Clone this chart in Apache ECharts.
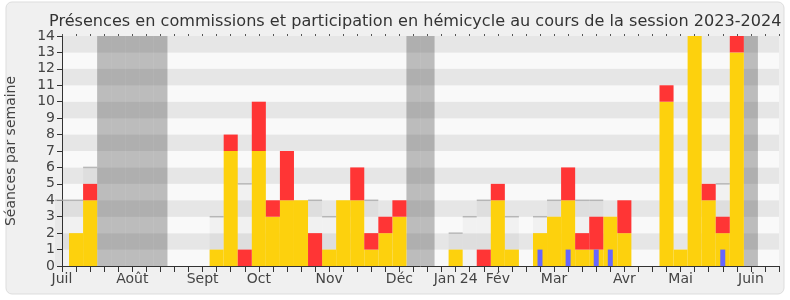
<html>
<head>
<meta charset="utf-8">
<title>Présences 2023-2024</title>
<script src="https://cdn.jsdelivr.net/npm/echarts@6/dist/echarts.min.js"></script>
<style>
  body { margin: 0; background: #fff; }
</style>
</head>
<body>
<div id="main" style="width: 790px;height:300px;"></div>
<script>
// semaines de la session (52 points, juil. 2023 -> juin 2024)
var weekLabels = ['Juil','','','','','Août','','','','','Sept','','','','Oct','','','','','Nov',
                  '','','','','Déc','','','','Jan 24','','','Fév','','','','Mar','','','','',
                  'Avr','','','','Mai','','','','','Juin','',''];

// présences en commission (jaune)
var commission = [0,2,4,0,0,0,0,0,0,0, 0,1,7,0,7,3,4,4,0,1,
                  4,4,1,2,3,0,0,0,1,0, 0,4,1,0,2,3,4,1,1,3,
                  2,0,0,10,1,14,4,2,13,0, 0,0];
// participation en hémicycle (rouge, empilé)
var hemicycle  = [0,0,1,0,0,0,0,0,0,0, 0,0,1,1,3,1,3,0,2,0,
                  0,2,1,1,1,0,0,0,0,0, 1,1,0,0,0,0,2,1,2,0,
                  2,0,0,1,0,0,1,1,1,0, 0,0];
// médiane des députés (gris clair)
var mediane    = [4,4,6,'-','-','-','-','-','-','-', '-',3,'-',5,'-','-','-','-',4,3,
                  '-','-',4,'-','-','-','-','-',2,3, 4,'-',3,'-',3,4,'-',4,4,'-',
                  '-','-','-','-','-','-','-',5,'-','-', '-','-'];
// questions orales (bleu)
var questions  = [0,0,0,0,0,0,0,0,0,0, 0,0,0,0,0,0,0,0,0,0,
                  0,0,0,0,0,0,0,0,0,0, 0,0,0,0,1,0,1,0,1,1,
                  0,0,0,0,0,0,0,1,0,0, 0,0];
// vacances parlementaires
var vacances   = ['-','-','-',14,14,14,14,14,'-','-', '-','-','-','-','-','-','-','-','-','-',
                  '-','-','-','-','-',14,14,'-','-','-', '-','-','-','-','-','-','-','-','-','-',
                  '-','-','-','-','-','-','-','-','-',14, '-','-'];

var font = 'DejaVu Sans';
var myChart = echarts.init(document.getElementById('main'));

var option = {
    animation: false,
    backgroundColor: '#ffffff',
    graphic: [{
        type: 'rect', z: -10, silent: true,
        shape: { x: 6, y: 2, width: 778, height: 292, r: 6 },
        style: { fill: '#f0f0f0', stroke: '#dddddd', lineWidth: 1 }
    }],
    title: {
        text: 'Présences en commissions et participation en hémicycle au cours de la session 2023-2024',
        left: 44, top: 9,
        textStyle: { fontFamily: font, fontSize: 16.1, fontWeight: 'normal', color: '#333' }
    },
    grid: { left: 62, right: 11, top: 36, bottom: 34, outerBoundsMode: 'none', containLabel: false },
    xAxis: [{
        type: 'category', data: weekLabels, boundaryGap: false,
        axisLine: { lineStyle: { color: '#333', width: 1 } },
        axisTick: { interval: 0, length: 6, lineStyle: { color: '#333' } },
        axisLabel: { interval: 0, margin: 6, fontFamily: font, fontSize: 14, color: '#444',
                     alignMinLabel: 'center', alignMaxLabel: 'center' },
        splitLine: { show: false }
    }, {
        type: 'category', data: weekLabels, boundaryGap: false, show: false
    }, {
        type: 'category', data: weekLabels, boundaryGap: false, position: 'top',
        axisLine: { show: false },
        axisTick: { interval: 0, length: 2, lineStyle: { color: '#555' } },
        axisLabel: { show: false }
    }],
    yAxis: {
        type: 'value', min: 0, max: 14, interval: 1,
        name: 'Séances par semaine', nameLocation: 'middle', nameGap: 44,
        nameTextStyle: { fontFamily: font, fontSize: 14, color: '#444' },
        axisLine: { show: true, lineStyle: { color: '#333' } },
        axisTick: { show: true, length: 5, lineStyle: { color: '#333' } },
        axisLabel: { margin: 7, fontFamily: font, fontSize: 14, color: '#444' },
        splitLine: { show: false },
        splitArea: { show: true, areaStyle: { color: ['#f9f9f9', '#e6e6e6'] } }
    },
    series: [{
        name: 'vacances', type: 'bar', data: vacances, stack: 'v',
        barWidth: '100%', barGap: '-100%',
        itemStyle: { color: 'rgba(60,60,60,0.32)' }
    }, {
        name: 'médiane', type: 'bar', data: mediane, stack: 'm',
        barWidth: '100%', barGap: '-100%',
        itemStyle: { color: 'rgba(0,0,0,0.03)' }
    }, {
        name: 'commission', type: 'bar', data: commission, stack: 's',
        barWidth: '100%', barGap: '-100%',
        itemStyle: { color: '#fdd10d' }
    }, {
        name: 'hémicycle', type: 'bar', data: hemicycle, stack: 's',
        barWidth: '100%', barGap: '-100%',
        itemStyle: { color: '#ff3535' }
    }, {
        name: 'médiane ligne', type: 'scatter', data: mediane,
        symbol: 'rect', symbolSize: [14, 1.5],
        itemStyle: { color: '#aaaaaa' }, z: 3
    }, {
        name: 'questions', type: 'bar', data: questions, xAxisIndex: 1,
        barWidth: 5, itemStyle: { color: '#6666ff' }, z: 4
    }]
};

myChart.setOption(option);
</script>
</body>
</html>
